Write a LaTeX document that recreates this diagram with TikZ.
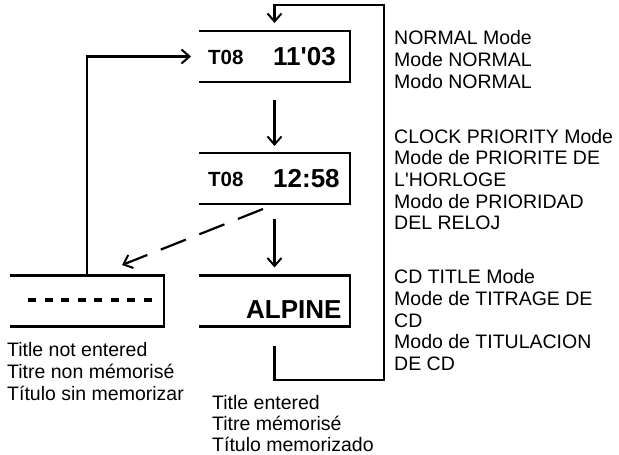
\documentclass[tikz,border=0pt]{standalone}
\usepackage{fontspec}
\setmainfont{Liberation Sans}
\usetikzlibrary{arrows.meta}
\begin{document}
\begin{tikzpicture}[x=1pt,y=-1pt,line join=miter,
  ln/.style={line width=2.5pt},
  arr/.style={-{Straight Barb[length=8pt,width=14pt,line width=2pt]}, line width=2.2pt},
  disp/.style={draw=none, minimum width=151pt, minimum height=51pt, inner sep=0pt, outer sep=0pt},
  smalltxt/.style={font=\fontsize{20.5}{24}\selectfont\bfseries, inner sep=0pt, anchor=base west},
  bigtxt/.style={font=\fontsize{26}{30}\selectfont\bfseries, inner sep=0pt, anchor=base west},
  captxt/.style={font=\fontsize{19.5}{21.7}\selectfont, align=left, inner sep=0pt, anchor=north west}]
\useasboundingbox (0,0) rectangle (619,455);

% display boxes (open on the left)
\node[disp] (box1) at (274.5,56.5) {};
\node[disp] (box2) at (274.5,178.5) {};
\node[disp] (box3) at (274.5,301) {};
\node[disp, minimum width=154pt] (box0) at (87,301) {};
\foreach \b in {box0,box1,box2,box3}
  \draw[ln] (\b.north west) -- (\b.north east) -- (\b.south east) -- (\b.south west);

% box texts
\node[smalltxt] (t1) at (208,64) {T08};
\node[bigtxt] (c1) at (273,65) {11\textquotesingle 03};
\node[smalltxt] (t2) at (208,186) {T08};
\node[bigtxt] (c2) at (273,187) {12:58};
\node[bigtxt] (alp) at (246,318) {ALPINE};
\draw[line width=3.5pt, dash pattern=on 8pt off 8.5pt] (28,300) -- (157,300);

% connectors
\coordinate (lb) at (384,380);
\coordinate (lt) at (384,5);
\draw[arr, shorten <=18pt, shorten >=7pt] (box1.south) -- (box2.north);
\draw[arr, shorten <=15pt, shorten >=8pt] (box2.south) -- (box3.north);
\draw[arr, shorten <=19.5pt, shorten >=8pt] (box3.south) -- (box3.south |- lb) -- (lb) -- (lt) -- (lt -| box1.north) -- (box1.north);
\draw[arr, shorten >=8pt] (box0.north) |- (box1.west);
\coordinate (ds) at (263,209);
\coordinate (de) at (122,265);
\draw[arr, dash pattern=on 27pt off 14.5pt] (ds) -- (de);

% captions
\node[captxt] (m1) at (394,30.3) {NORMAL Mode\\Mode NORMAL\\Modo NORMAL};
\node[captxt] (m2) at (394,128.7) {CLOCK PRIORITY Mode\\Mode de PRIORITE DE\\L\textquotesingle HORLOGE\\Modo de PRIORIDAD\\DEL RELOJ};
\node[captxt] (m3) at (394,269.3) {CD TITLE Mode\\Mode de TITRAGE DE\\CD\\Modo de TITULACION\\DE CD};
\node[captxt] (n1) at (7,342.5) {Title not entered\\Titre non mémorisé\\Título sin memorizar};
\node[captxt, font=\fontsize{19.5}{21.2}\selectfont] (n2) at (212,395) {Title entered\\Titre mémorisé\\Título memorizado};
\end{tikzpicture}
\end{document}
